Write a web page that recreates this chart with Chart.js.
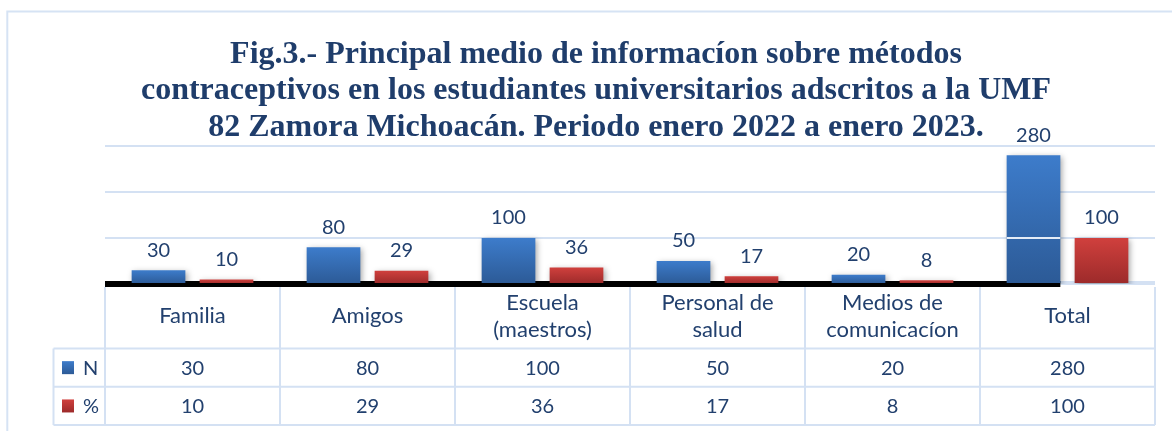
<!DOCTYPE html>
<html><head><meta charset="utf-8">
<script src="https://cdn.jsdelivr.net/npm/chart.js@4.4.0/dist/chart.umd.min.js"></script>
<style>
html,body{margin:0;padding:0;background:#fff;}
canvas{display:block;}
</style></head><body>
<canvas id="c" width="1172" height="431"></canvas>
<script>
// ---- data ----
const categories = ["Familia", "Amigos", "Escuela (maestros)", "Personal de salud", "Medios de comunicacíon", "Total"];
const categoryLines = [["Familia"], ["Amigos"], ["Escuela", "(maestros)"], ["Personal de", "salud"], ["Medios de", "comunicacíon"], ["Total"]];
const seriesNames = ["N", "%"];
const seriesN = [30, 80, 100, 50, 20, 280];
const seriesPct = [10, 29, 36, 17, 8, 100];
const yTicks = [0, 100, 200, 300];
const titleLines = [
  "Fig.3.- Principal medio de informacíon sobre métodos",
  "contraceptivos en los estudiantes universitarios adscritos a la UMF",
  "82 Zamora Michoacán. Periodo enero 2022 a enero 2023."
];

// ---- style ----
const TEXT = '#22406E';
const GRID = '#D4E1F3';
const FONT = 'Lato, "Open Sans", sans-serif';
const BLUE = ['#3D7CCB', '#2C5A96'];
const RED = ['#D0403D', '#9C2A2A'];
const labelGap = 20;
const tableStyle = { headerH: 64.5, rowH: 38.3, rowHeadLeft: 53.5, lineH: 26.6 };

function barGrad(cols) {
  return function (ctx) {
    const chart = ctx.chart;
    if (ctx.type !== 'data' || !chart.chartArea || !chart.scales.y) return cols[1];
    const ys = chart.scales.y;
    const v = ctx.raw;
    const y1 = ys.getPixelForValue(v), y0 = ys.getPixelForValue(0);
    if (!isFinite(y1) || !isFinite(y0) || Math.abs(y0 - y1) < 1) return cols[1];
    const g = chart.ctx.createLinearGradient(0, y1, 0, y0);
    g.addColorStop(0, cols[0]);
    g.addColorStop(1, cols[1]);
    return g;
  };
}

const framePlugin = {
  id: 'frame',
  beforeDraw(chart) {
    const c = chart.ctx;
    c.save();
    c.strokeStyle = '#D6E3F4';
    c.lineWidth = 2;
    c.strokeRect(7.3, 11.5, chart.width + 20, chart.height + 20);
    c.restore();
  },
  beforeDatasetsDraw(chart) {
    const c = chart.ctx, a = chart.chartArea;
    const meta = chart.getDatasetMeta(0);
    const last = meta.data[meta.data.length - 1];
    const y0 = chart.scales.y.getPixelForValue(0);
    c.save();
    c.strokeStyle = GRID; c.lineWidth = 2;
    c.beginPath(); c.moveTo(a.left, y0 - 2); c.lineTo(a.right, y0 - 2); c.stroke();
    c.fillStyle = '#000';
    c.fillRect(a.left, y0 - 3, last.x + last.width / 2 - a.left, 6);
    c.restore();
  },
  beforeDatasetDraw(chart) {
    const c = chart.ctx;
    c.save();
    c.shadowColor = 'rgba(0,0,0,0.35)';
    c.shadowBlur = 6;
    c.shadowOffsetX = 2;
    c.shadowOffsetY = 2;
  },
  afterDatasetDraw(chart) {
    chart.ctx.restore();
  },
  afterDatasetsDraw(chart) {
    const c = chart.ctx;
    const ys = chart.scales.y;
    const meta0 = chart.getDatasetMeta(0);
    const last = meta0.data[meta0.data.length - 1];
    c.save();
    c.strokeStyle = '#E4ECF7'; c.lineWidth = 2;
    const gy = ys.getPixelForValue(yTicks[1]);
    c.beginPath(); c.moveTo(last.x - last.width / 2, gy); c.lineTo(last.x + last.width / 2, gy); c.stroke();
    c.fillStyle = TEXT;
    c.font = '20px ' + FONT;
    c.textAlign = 'center';
    c.textBaseline = 'middle';
    chart.data.datasets.forEach((ds, di) => {
      const meta = chart.getDatasetMeta(di);
      meta.data.forEach((bar, i) => {
        c.fillText(String(ds.data[i]), bar.x, bar.y - labelGap);
      });
    });
    c.restore();
  },
  afterDraw(chart) {
    const c = chart.ctx, a = chart.chartArea;
    const xs = chart.scales.x;
    const cw = xs.getPixelForValue(1) - xs.getPixelForValue(0);
    const top = chart.scales.y.getPixelForValue(0);
    const hb = top + tableStyle.headerH;
    const r1 = hb + tableStyle.rowH;
    const r2 = r1 + tableStyle.rowH;
    const L = tableStyle.rowHeadLeft;
    c.save();
    c.strokeStyle = GRID; c.lineWidth = 2;
    c.beginPath();
    [hb, r1, r2].forEach(y => { c.moveTo(L, y); c.lineTo(a.right, y); });
    c.moveTo(L, hb); c.lineTo(L, r2);
    for (let i = 0; i <= categories.length; i++) {
      const x = xs.getPixelForValue(0) - cw / 2 + i * cw;
      c.moveTo(x, top + 3); c.lineTo(x, r2);
    }
    c.stroke();
    c.fillStyle = TEXT;
    c.font = '22px ' + FONT;
    c.textAlign = 'center';
    c.textBaseline = 'middle';
    const hc = (top + hb) / 2;
    categoryLines.forEach((lines, i) => {
      const x = xs.getPixelForValue(i);
      const n = lines.length;
      lines.forEach((t, k) => {
        c.fillText(t, x, hc + (k - (n - 1) / 2) * tableStyle.lineH);
      });
    });
    c.font = '20px ' + FONT;
    const rows = [[seriesN, BLUE, (hb + r1) / 2], [seriesPct, RED, (r1 + r2) / 2]];
    rows.forEach(([vals, cols, yc], ri) => {
      vals.forEach((v, i) => c.fillText(String(v), xs.getPixelForValue(i), yc + 1));
      const g = c.createLinearGradient(0, yc - 6.5, 0, yc + 6.5);
      g.addColorStop(0, cols[0]); g.addColorStop(1, cols[1]);
      c.fillStyle = g;
      c.fillRect(62, yc - 6.5, 12, 13);
      c.fillStyle = TEXT;
      c.textAlign = 'left';
      c.fillText(seriesNames[ri], 83, yc + 1);
      c.textAlign = 'center';
    });
    c.restore();
  }
};

new Chart(document.getElementById('c'), {
  type: 'bar',
  data: {
    labels: categories,
    datasets: [
      { label: seriesNames[0], data: seriesN, backgroundColor: barGrad(BLUE), borderWidth: 0, categoryPercentage: 0.777, barPercentage: 0.79 },
      { label: seriesNames[1], data: seriesPct, backgroundColor: barGrad(RED), borderWidth: 0, categoryPercentage: 0.777, barPercentage: 0.79 }
    ]
  },
  options: {
    responsive: false,
    animation: false,
    layout: { padding: { left: 37, right: 17, top: 0, bottom: 147 } },
    plugins: {
      legend: { display: false },
      tooltip: { enabled: false },
      title: {
        display: true,
        text: titleLines,
        color: '#1F3D6B',
        font: { family: '"Liberation Serif", "Times New Roman", serif', size: 32, weight: 'bold', lineHeight: 1.147 },
        padding: { top: 36, bottom: 0 }
      }
    },
    scales: {
      x: { display: false },
      y: {
        min: yTicks[0], max: yTicks[yTicks.length - 1],
        ticks: { display: false, stepSize: yTicks[1] - yTicks[0] },
        grid: { color: GRID, lineWidth: 2, drawTicks: false },
        border: { display: false },
        afterFit(s) { s.width = 68; }
      }
    }
  },
  plugins: [framePlugin]
});
</script>
</body></html>
